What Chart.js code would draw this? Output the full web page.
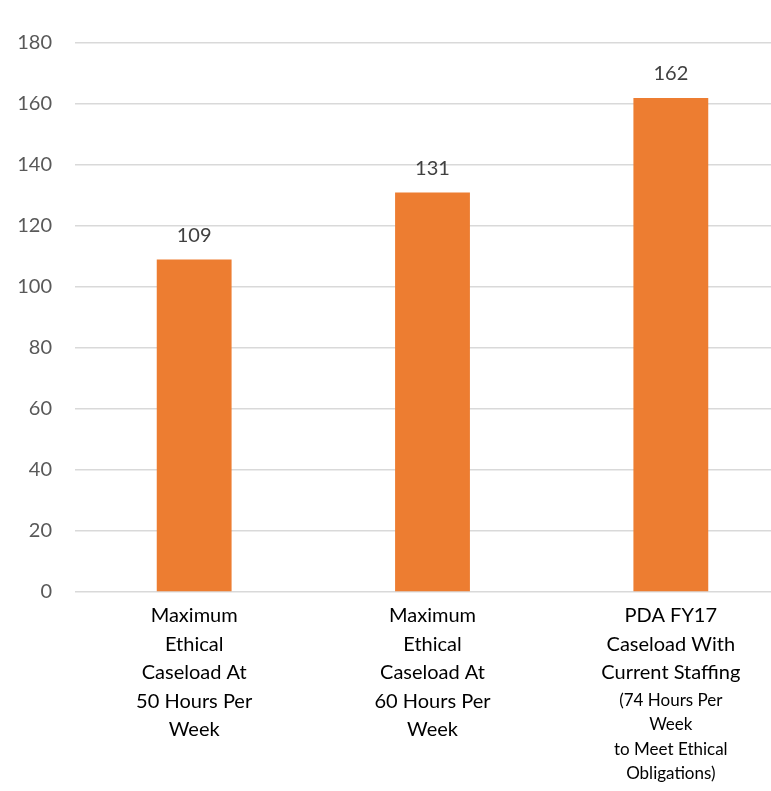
<!DOCTYPE html>
<html>
<head>
<meta charset="utf-8">
<script src="https://cdn.jsdelivr.net/npm/chart.js@4"></script>
<style>
    html, body { margin: 0; padding: 0; background: #fff; overflow: hidden; }
    #wrap { width: 800px; height: 791px; position: relative; }
</style>
</head>
<body>
<div id="wrap"><canvas id="caseloadChart"></canvas></div>
<script>
// Chart data
const categories = [
    ['Maximum', 'Ethical', 'Caseload At', '50 Hours Per', 'Week'],
    ['Maximum', 'Ethical', 'Caseload At', '60 Hours Per', 'Week'],
    ['PDA FY17', 'Caseload With', 'Current Staffing']
];
const categoryNotes = [
    [],
    [],
    ['(74 Hours Per', 'Week', 'to Meet Ethical', 'Obligations)']
];
const caseloads = [109, 131, 162];
const yTicks = [0, 20, 40, 60, 80, 100, 120, 140, 160, 180];

const FONT = 'Lato, "Open Sans", sans-serif';

// Value labels above each bar
const valueLabels = {
    id: 'valueLabels',
    afterDatasetsDraw(chart) {
        const ctx = chart.ctx;
        const meta = chart.getDatasetMeta(0);
        ctx.save();
        ctx.font = '20px ' + FONT;
        ctx.fillStyle = '#404040';
        ctx.textAlign = 'center';
        ctx.textBaseline = 'middle';
        meta.data.forEach((bar, i) => {
            ctx.fillText(String(caseloads[i]), bar.x, bar.y - 24);
        });
        ctx.restore();
    }
};

// Category labels under the axis (the last one has a smaller note part)
const categoryLabels = {
    id: 'categoryLabels',
    afterDraw(chart) {
        const ctx = chart.ctx;
        const xScale = chart.scales.x;
        const top = chart.chartArea.bottom;
        ctx.save();
        ctx.fillStyle = '#000000';
        ctx.textAlign = 'center';
        ctx.textBaseline = 'middle';
        categories.forEach((lines, i) => {
            const x = xScale.getPixelForTick(i);
            let y = top + 24;
            ctx.font = '20px ' + FONT;
            lines.forEach(line => {
                ctx.fillText(line, x, y);
                y += 28.5;
            });
            ctx.font = '17px ' + FONT;
            y -= 1;
            categoryNotes[i].forEach(line => {
                ctx.fillText(line, x, y);
                y += 24.5;
            });
        });
        ctx.restore();
    }
};

const ctx = document.getElementById('caseloadChart').getContext('2d');
new Chart(ctx, {
    type: 'bar',
    data: {
        labels: categories.map(l => l.join(' ')),
        datasets: [{
            data: caseloads,
            backgroundColor: '#ED7D31',
            categoryPercentage: 1,
            barPercentage: 0.314
        }]
    },
    options: {
        responsive: true,
        maintainAspectRatio: false,
        animation: false,
        layout: { padding: { top: 43, right: 10, bottom: 191, left: 0 } },
        plugins: {
            legend: { display: false },
            tooltip: { enabled: false }
        },
        scales: {
            x: {
                grid: { display: false },
                border: { display: false },
                ticks: { display: false }
            },
            y: {
                min: 0,
                max: 180,
                afterBuildTicks(scale) {
                    scale.ticks = yTicks.map(v => ({ value: v }));
                },
                afterFit(scale) {
                    scale.width = 75;
                },
                grid: { color: '#d9d9d9', lineWidth: 1.5, drawTicks: false },
                border: { display: false },
                ticks: {
                    padding: 23,
                    color: '#595959',
                    font: { family: FONT, size: 20 }
                }
            }
        }
    },
    plugins: [valueLabels, categoryLabels]
});
</script>
</body>
</html>
